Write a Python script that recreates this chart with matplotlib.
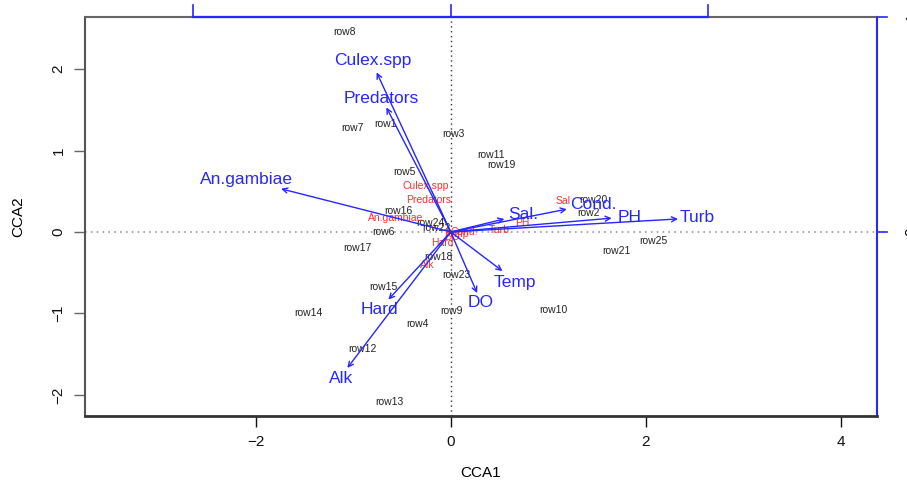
import matplotlib.pyplot as plt
import numpy as np

# * site scores (black row labels)
site_names = ['row1', 'row2', 'row3', 'row4', 'row5', 'row6', 'row7', 'row8',
              'row9', 'row10', 'row11', 'row12', 'row13', 'row14', 'row15',
              'row16', 'row17', 'row18', 'row19', 'row20', 'row21', 'row22',
              'row23', 'row24', 'row25']
site_x = [-0.67, 1.41, 0.03, -0.34, -0.48, -0.69, -1.01, -1.09,
          0.01, 1.05, 0.41, -0.91, -0.63, -1.46, -0.69,
          -0.54, -0.96, -0.13, 0.52, 1.46, 1.70, -0.15,
          0.06, -0.21, 2.08]
site_y = [1.32, 0.23, 1.20, -1.13, 0.74, 0.00, 1.28, 2.45,
          -0.97, -0.96, 0.94, -1.44, -2.09, -0.99, -0.67,
          0.26, -0.20, -0.31, 0.82, 0.39, -0.23, 0.05,
          -0.53, 0.11, -0.11]

# * species / variable scores (small red labels)
sp_names = ['Culex.spp', 'Predators', 'An.gambiae', 'Hard', 'Alk',
            'DO', 'Temp', 'Cond.', 'Turb', 'PH', 'Sal']
sp_x = [-0.26, -0.23, -0.56, -0.09, -0.24, 0.01, 0.06, 0.14, 0.50, 0.73, 1.15]
sp_y = [0.57, 0.39, 0.17, -0.13, -0.40, -0.06, -0.02, 0.00, 0.02, 0.11, 0.38]

# * biplot arrows (blue): arrow tips and label positions
env_names = ['Culex.spp', 'Predators', 'An.gambiae', 'Sal.', 'Cond.',
             'PH', 'Turb', 'Temp', 'DO', 'Hard', 'Alk']
env_x = [-0.76, -0.66, -1.74, 0.55, 1.19, 1.65, 2.33, 0.53, 0.27, -0.64, -1.06]
env_y = [1.96, 1.53, 0.53, 0.16, 0.28, 0.17, 0.16, -0.48, -0.75, -0.83, -1.67]
lab_x = [-0.80, -0.71, -2.09, 0.74, 1.46, 1.83, 2.53, 0.66, 0.31, -0.73, -1.12]
lab_y = [2.10, 1.64, 0.65, 0.22, 0.34, 0.18, 0.18, -0.62, -0.87, -0.95, -1.80]

# * ticks
x_ticks = [-2, 0, 2, 4]
y_ticks = [-2, -1, 0, 1, 2]

blue = '#2626ff'
red = '#ff2e2e'
font_family = 'Liberation Sans'
font_axis = {'family': font_family, 'size': 11}

fig = plt.figure(figsize=(9.07, 4.82), dpi=100)
ax = fig.add_axes([85 / 907, 66 / 482, 792 / 907, 399 / 482])
ax.set_xlim(-3.75, 4.37)
ax.set_ylim(-2.26, 2.64)

# dotted zero lines
ax.axvline(0, color='#333333', linestyle=(0, (1, 2.5)), linewidth=1.0, zorder=1)
ax.axhline(0, color='#999999', linestyle=(0, (1, 2.5)), linewidth=1.2, zorder=1)

# site labels
for name, x, y in zip(site_names, site_x, site_y):
    ax.text(x, y, name, ha='center', va='center', fontsize=7.5,
            family=font_family, color='#222222', zorder=3)

# red labels
for name, x, y in zip(sp_names, sp_x, sp_y):
    ax.text(x, y, name, ha='center', va='center', fontsize=7.5,
            family=font_family, color=red, zorder=3)

# blue arrows and their labels
for name, x, y, lx, ly in zip(env_names, env_x, env_y, lab_x, lab_y):
    ax.annotate('', xy=(x, y), xytext=(0, 0),
                arrowprops=dict(arrowstyle='->', color=blue, lw=1.0,
                                mutation_scale=9, shrinkA=0, shrinkB=0),
                zorder=4)
    ax.text(lx, ly, name, ha='center', va='center', fontsize=12.5,
            family=font_family, color=blue, zorder=5)

# axes, ticks and labels
ax.set_xticks(x_ticks)
ax.set_xticklabels([str(t).replace('-', '\u2212') for t in x_ticks],
                   fontdict=font_axis)
ax.set_yticks(y_ticks)
ax.set_yticklabels([str(t).replace('-', '\u2212') for t in y_ticks],
                   fontdict=font_axis, rotation=90, va='center')
ax.tick_params(axis='x', direction='out', length=8, width=1.0, pad=6,
               colors='#111111')
ax.tick_params(axis='y', direction='out', length=8, width=1.0, pad=6,
               colors='#666666', labelcolor='#111111')
ax.set_xlabel('CCA1', fontdict=font_axis, labelpad=12)
ax.set_ylabel('CCA2', fontdict=font_axis, labelpad=19)

ax.spines['left'].set_color('#555555')
ax.spines['left'].set_linewidth(1.5)
ax.spines['bottom'].set_color('#333333')
ax.spines['bottom'].set_linewidth(2.0)
ax.spines['top'].set_color('#666666')
ax.spines['top'].set_linewidth(1.5)
ax.spines['right'].set_color(blue)
ax.spines['right'].set_linewidth(1.5)

# secondary (species) axes in blue, top and right
top_ticks = [-2.64, 0, 2.64]
ax.plot([top_ticks[0], top_ticks[-1]], [1, 1], color=blue, lw=1.6,
        transform=ax.get_xaxis_transform(), clip_on=False, zorder=6)
for t in top_ticks:
    ax.plot([t, t], [1, 1.03], color=blue, lw=1.2,
            transform=ax.get_xaxis_transform(), clip_on=False, zorder=6)
right_ticks = [2.64, 0]
for t, lab in zip(right_ticks, ['1', '0']):
    ax.plot([1, 1.013], [t, t], color=blue, lw=1.2,
            transform=ax.get_yaxis_transform(), clip_on=False, zorder=6)
    ax.text(1.044, t, lab, rotation=90, ha='center', va='center',
            fontdict=font_axis, transform=ax.get_yaxis_transform(),
            clip_on=False)

plt.savefig('out.png', dpi=100)
